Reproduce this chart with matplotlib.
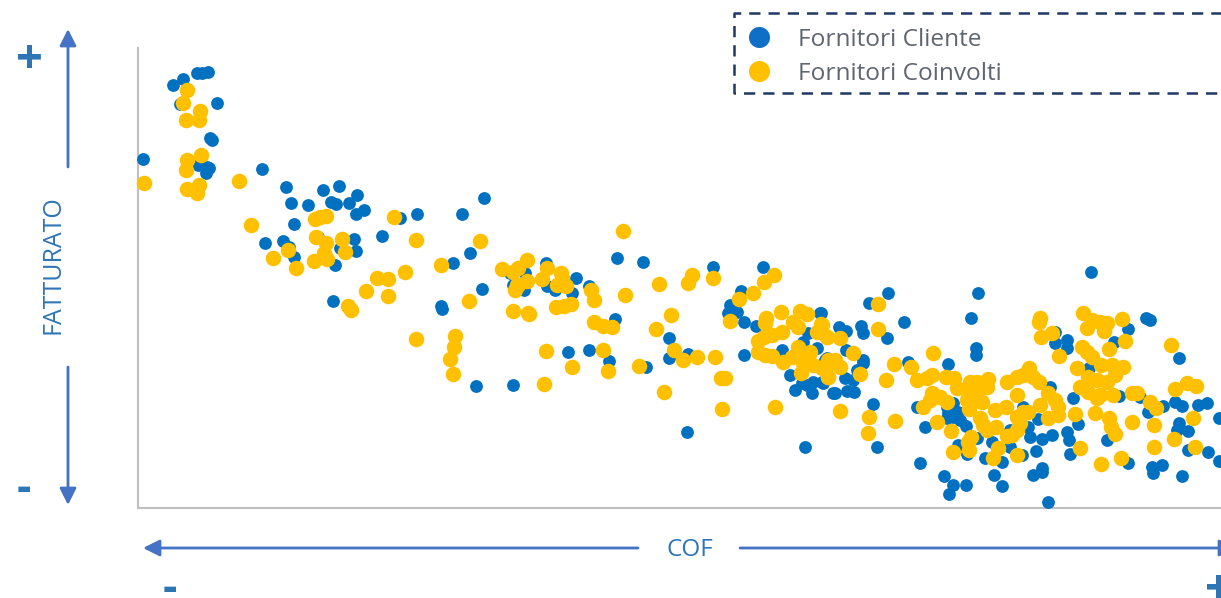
import matplotlib
matplotlib.use("Agg")
import matplotlib.pyplot as plt

plt.rcParams['font.family'] = ['Open Sans', 'DejaVu Sans']

W, H = 1221, 598

# values (no scale on the chart, so picture units)
cliente_x = [143, 173, 183, 197, 202, 208, 180, 217, 210, 212, 198, 209, 207, 206, 262, 286, 291, 308, 323, 339,
             331, 336, 349, 357, 356, 364, 400, 417, 462, 484, 294, 382, 265, 283, 289, 294, 318, 354, 356, 340,
             335, 453, 470, 482, 333, 441, 442, 476, 513, 546, 525, 510, 513, 524, 576, 589, 572, 547, 555, 617,
             643, 615, 568, 589, 609, 646, 713, 763, 741, 730, 728, 737, 744, 756, 669, 669, 688, 744, 820, 808,
             803, 817, 782, 827, 790, 795, 812, 807, 802, 813, 822, 828, 833, 687, 805, 1091, 888, 869, 978, 971,
             1146, 1150, 1128, 904, 861, 863, 846, 839, 887, 821, 1055, 1055, 1067, 1067, 1114, 976, 976, 1179, 846, 863,
             863, 825, 857, 845, 853, 823, 835, 847, 854, 908, 948, 1089, 1050, 1119, 1073, 873, 917, 925, 877, 947,
             953, 948, 953, 958, 960, 966, 947, 1023, 1038, 1010, 1030, 1028, 1042, 1052, 1067, 1069, 1036, 1070, 992, 1010,
             985, 1002, 1022, 967, 958, 977, 920, 944, 953, 966, 949, 994, 1002, 1033, 1042, 1042, 1048, 1078, 1107, 1128,
             1152, 1153, 1162, 1182, 1188, 1208, 1219, 1179, 1177, 1188, 1219, 1207, 1198, 1163, 1148, 1175, 1182, 1140]
cliente_y = [159, 85, 79, 73, 73, 72, 104, 103, 138, 140, 165, 168, 167, 173, 169, 187, 203, 205, 190, 186,
             202, 204, 203, 195, 214, 210, 218, 214, 214, 198, 224, 236, 243, 241, 247, 257, 237, 239, 251, 248,
             265, 263, 253, 289, 301, 306, 309, 386, 385, 263, 273, 273, 285, 290, 278, 286, 293, 286, 290, 258,
             262, 319, 352, 350, 361, 367, 267, 267, 291, 305, 313, 312, 322, 326, 338, 358, 354, 355, 313, 333,
             342, 348, 350, 358, 375, 390, 393, 385, 383, 382, 382, 377, 393, 432, 447, 272, 293, 303, 293, 318,
             318, 320, 329, 322, 326, 333, 331, 327, 338, 313, 332, 343, 340, 348, 342, 348, 355, 358, 350, 360,
             363, 360, 370, 378, 380, 383, 393, 391, 392, 362, 364, 368, 387, 396, 398, 404, 407, 427, 447, 407,
             403, 413, 417, 412, 420, 426, 418, 407, 419, 430, 437, 427, 439, 435, 432, 440, 451, 454, 442, 447,
             458, 462, 455, 454, 445, 438, 463, 476, 485, 485, 494, 475, 486, 475, 472, 468, 502, 424, 440, 463,
             467, 473, 465, 476, 450, 452, 461, 423, 430, 431, 418, 403, 405, 406, 412, 402, 406, 397]

coinvolti_x = [144, 187, 183, 200, 186, 199, 187, 201, 186, 199, 187, 197, 239, 251, 315, 320, 326, 394, 416, 480,
               316, 342, 326, 288, 345, 324, 273, 314, 327, 296, 441, 405, 377, 388, 366, 388, 348, 351, 469, 502,
               513, 518, 527, 527, 515, 518, 513, 528, 416, 455, 454, 450, 453, 517, 547, 542, 561, 557, 566, 562,
               591, 594, 556, 564, 571, 529, 546, 572, 544, 594, 603, 612, 603, 608, 639, 623, 625, 659, 688, 692,
               713, 671, 656, 674, 683, 697, 715, 721, 725, 664, 722, 775, 739, 753, 764, 774, 730, 766, 765, 781,
               800, 807, 793, 821, 817, 827, 798, 782, 772, 764, 758, 758, 765, 772, 783, 792, 798, 810, 800, 803,
               813, 801, 823, 828, 828, 878, 878, 822, 827, 840, 853, 860, 835, 830, 840, 828, 822, 894, 886, 933,
               911, 917, 932, 927, 946, 954, 957, 970, 977, 988, 987, 968, 977, 967, 982, 932, 940, 947, 930, 923,
               969, 937, 951, 840, 869, 868, 895, 953, 969, 971, 968, 980, 983, 987, 996, 995, 1006, 1017, 1007, 1017,
               1029, 1023, 1033, 1039, 1048, 1055, 1040, 1028, 1023, 1017, 1020, 1058, 1058, 1048, 1017, 1012, 1007, 998, 993, 1017,
               1040, 1039, 1041, 1052, 1059, 1083, 1087, 1092, 1100, 1107, 1104, 1122, 1125, 1109, 1082, 1087, 1092, 1077, 1101, 1112,
               1123, 1115, 1088, 1097, 1107, 1080, 1088, 1100, 1113, 1097, 1132, 1137, 1150, 1156, 1175, 1187, 1196, 1171, 1075, 1095,
               1109, 1111, 1115, 1132, 1154, 1193, 1174, 1154, 1195, 1080, 1101, 1121]
coinvolti_y = [183, 90, 103, 111, 120, 120, 160, 155, 170, 185, 189, 193, 181, 225, 219, 217, 216, 217, 240, 241,
               237, 239, 243, 250, 252, 253, 258, 261, 259, 268, 265, 272, 278, 279, 291, 296, 306, 310, 301, 269,
               272, 268, 260, 281, 290, 285, 311, 313, 339, 336, 347, 359, 374, 285, 268, 279, 273, 285, 286, 278,
               290, 300, 307, 306, 304, 314, 351, 367, 384, 322, 326, 327, 350, 371, 366, 231, 295, 284, 283, 275,
               278, 315, 329, 350, 360, 357, 357, 378, 378, 392, 409, 407, 299, 293, 282, 275, 321, 318, 323, 312,
               311, 314, 322, 324, 332, 337, 327, 332, 335, 337, 341, 352, 355, 356, 362, 357, 347, 352, 357, 363,
               365, 373, 367, 360, 377, 304, 329, 325, 337, 338, 353, 374, 360, 363, 367, 377, 368, 364, 380, 353,
               367, 380, 375, 378, 377, 378, 388, 382, 382, 379, 387, 392, 392, 400, 402, 393, 397, 402, 400, 407,
               409, 422, 431, 411, 417, 433, 421, 452, 450, 437, 442, 418, 425, 430, 427, 410, 407, 395, 382, 377,
               368, 375, 377, 382, 393, 400, 405, 412, 412, 417, 423, 407, 415, 418, 430, 435, 436, 448, 458, 455,
               318, 322, 337, 333, 356, 313, 328, 320, 322, 323, 331, 319, 341, 349, 347, 352, 357, 368, 365, 365,
               367, 375, 377, 380, 382, 387, 392, 395, 395, 398, 393, 393, 402, 408, 389, 383, 386, 345, 414, 413,
               418, 427, 434, 422, 425, 418, 439, 447, 447, 448, 464, 458]

legend_labels = ["Fornitori Cliente", "Fornitori Coinvolti"]
x_label = "COF"
y_label = "FATTURATO"

blue = "#0070C0"
yellow = "#FFC000"
arrow_col = "#4472C4"
text_col = "#2E75B6"

fig = plt.figure(figsize=(W / 100, H / 100), dpi=100)

# plot area, same units as the readings
left, right, top, bottom = 138, 1221, 48, 508
ax = fig.add_axes([left / W, 1 - bottom / H, (right - left) / W, (bottom - top) / H])
ax.set_xlim(left, right)
ax.set_ylim(bottom, top)
ax.set_xticks([])
ax.set_yticks([])
ax.spines['top'].set_visible(False)
ax.spines['right'].set_visible(False)
ax.spines['left'].set_color("#BFBFBF")
ax.spines['bottom'].set_color("#BFBFBF")
ax.spines['left'].set_linewidth(1.5)
ax.spines['bottom'].set_linewidth(1.5)
ax.scatter(cliente_x, cliente_y, s=85, color=blue, linewidths=0, clip_on=False, zorder=3)
ax.scatter(coinvolti_x, coinvolti_y, s=125, color=yellow, linewidths=0, clip_on=False, zorder=4)

# everything around the plot goes on an overlay in pixels
ov = fig.add_axes([0, 0, 1, 1])
ov.set_xlim(0, W)
ov.set_ylim(H, 0)
ov.axis('off')


def arrow(x0, y0, x1, y1):
    ov.annotate("", xy=(x1, y1), xytext=(x0, y0), annotation_clip=False,
                arrowprops=dict(arrowstyle="-|>", color=arrow_col, lw=2, mutation_scale=25,
                                shrinkA=0, shrinkB=0))


arrow(68, 167, 68, 29)
arrow(68, 367, 68, 505)
arrow(638, 548, 143, 548)
arrow(740, 548, 1236, 548)

ov.text(53, 265, y_label, rotation=90, ha='center', va='center', fontsize=18, color=text_col)
ov.text(690, 550, x_label, ha='center', va='center', fontsize=17.5, color=text_col)
ov.text(29.5, 60, "+", ha='center', va='center', fontsize=34, color=text_col, fontweight='bold')
ov.text(24, 490, "-", ha='center', va='center', fontsize=32, color=text_col, fontweight='bold')
ov.text(170, 589, "-", ha='center', va='center', fontsize=32, color=text_col, fontweight='bold')
ov.text(1218, 590, "+", ha='center', va='center', fontsize=34, color=text_col, fontweight='bold')

# legend box runs off the right edge
ov.plot([1225, 734, 734, 1225], [13, 13, 93, 93], color="#1F3864", lw=1.8, ls=(0, (4.5, 3.2)), clip_on=True)
ov.scatter([759], [37], s=230, color="#0F6FC6", linewidths=0)
ov.scatter([759], [71], s=230, color=yellow, linewidths=0)
ov.text(798, 40, legend_labels[0], ha='left', va='center', fontsize=17.6, color="#5F6670")
ov.text(798, 74, legend_labels[1], ha='left', va='center', fontsize=17.6, color="#5F6670")

fig.savefig("out.png", dpi=100)
